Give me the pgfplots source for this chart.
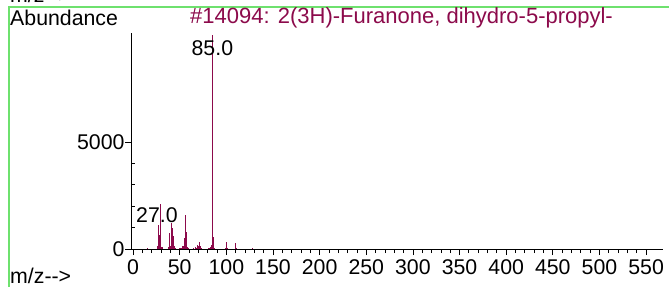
\documentclass[border=0pt]{standalone}
\usepackage{fontspec}
\setmainfont{Liberation Sans}
\usepackage{pgfplots}
\pgfplotsset{compat=1.18}
\definecolor{peak}{RGB}{140,10,75}
\definecolor{frame}{RGB}{110,225,110}
\newcommand{\bigf}{\fontsize{21.3pt}{25pt}\selectfont}
\begin{document}
\begin{tikzpicture}[x=1pt,y=1pt]
\useasboundingbox (0,0) rectangle (669,287);
\clip (0,0) rectangle (669,287);
\fill[white] (0,0) rectangle (669,287);
\draw[frame, line width=2pt] (8.5,0) -- (8.5,280) -- (669,280);
\node[anchor=base west, inner sep=0pt, font=\bigf] at (10,284) {m/z-{}-{}>};
\node[anchor=west, inner sep=0pt, font=\bigf] at (10,269) {Abundance};
\node[anchor=west, inner sep=0pt, font=\fontsize{22pt}{26pt}\selectfont, text=peak] at (190,269) {\#14094: 2(3H)-Furanone, dihydro-5-propyl-};
\node[anchor=west, inner sep=0pt, font=\bigf] at (10,11) {m/z-{}-{}>};
\begin{axis}[
  at={(131pt,38pt)}, anchor=south west,
  scale only axis, width=531.7pt, height=216pt,
  xmin=-2.25, xmax=567.8, ymin=0, ymax=10100,
  axis lines*=left,
  axis line style={black, line width=0.8pt},
  xtick={0,50,...,550}, minor x tick num=4,
  ytick={0,5000}, minor y tick num=4,
  scaled y ticks=false,
  yticklabels={0,5000},
  tick align=outside,
  major tick length=6pt, minor tick length=4pt,
  tick style={black, line width=0.8pt},
  minor y tick style={xshift=4pt},
  /pgf/number format/assume math mode=true,
  tick label style={font=\bigf},
  xticklabel style={yshift=-1pt},
  yticklabel style={xshift=3pt},
  clip=false,
]
\addplot[ycomb, peak, line width=1.1pt] coordinates {
(15,40) (26,150) (27,1100) (28,650) (29,2100) (30,60) (31,80)
(38,100) (39,750) (40,150) (41,1200) (42,1000) (43,600) (44,150) (45,40)
(50,40) (51,60) (52,40) (53,120) (54,120) (55,500) (56,1600) (57,800) (58,80) (59,40)
(65,40) (67,100) (68,60) (69,200) (70,120) (71,350) (72,150) (73,40)
(81,40) (82,40) (83,80) (84,200) (85,9999) (86,550) (87,60)
(99,40) (100,320) (101,30) (110,280) (111,30) (128,40)
};
\node[font=\bigf, inner sep=0pt] at (axis cs:85,9390) {85.0};
\node[font=\bigf, inner sep=0pt] at (axis cs:25.6,1590) {27.0};
\end{axis}
\end{tikzpicture}
\end{document}
